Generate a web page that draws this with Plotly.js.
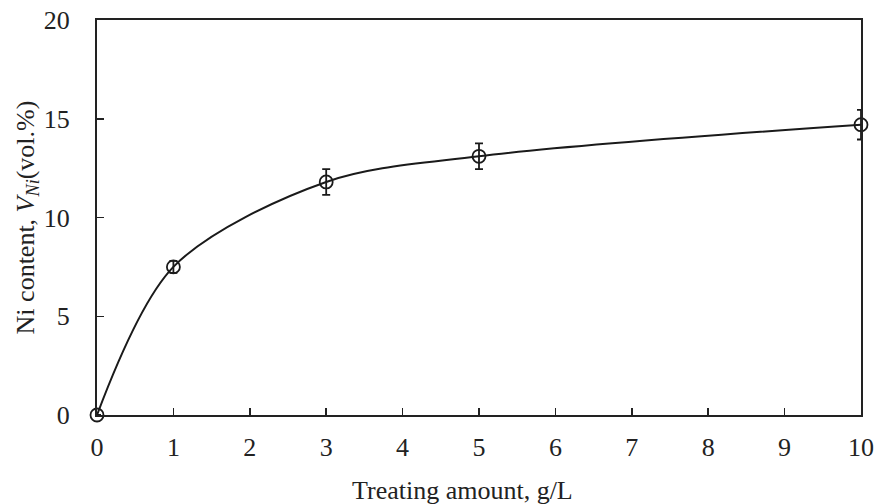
<!DOCTYPE html>
<html><head><meta charset="utf-8">
<script src="https://cdn.plot.ly/plotly-3.0.1.min.js"></script>
<style>body{margin:0;background:#fff}#c{width:879px;height:504px}</style>
</head><body><div id="c"></div>
<script>
var amount = [0, 1, 3, 5, 10];
var niContent = [0, 7.5, 11.8, 13.1, 14.7];
var errBar = [0, 0.3, 0.65, 0.65, 0.75];
var xTicks = [0,1,2,3,4,5,6,7,8,9,10];
var yTicks = [0,5,10,15,20];

var tickFont = {family: 'Liberation Serif, Times New Roman, serif', size: 26, color: '#222'};
var titleFont = {family: 'Liberation Serif, Times New Roman, serif', size: 26, color: '#222'};
var trace = {
  x: amount, y: niContent, type: 'scatter', mode: 'lines+markers',
  line: {shape: 'spline', smoothing: 0.9, color: '#1a1a1a', width: 2},
  marker: {symbol: 'circle-open', size: 13, color: '#1a1a1a', line: {width: 1.8}},
  error_y: {type: 'data', array: errBar, visible: true, color: '#1a1a1a', thickness: 1.8, width: 4},
  cliponaxis: false
};
var layout = {
  width: 879, height: 504,
  margin: {l: 97, r: 18, t: 20, b: 89},
  paper_bgcolor: '#fff', plot_bgcolor: '#fff',
  font: tickFont, showlegend: false,
  xaxis: {range: [0, 10], tickvals: xTicks, ticks: 'inside', ticklen: 7, tickwidth: 1.5, tickcolor: '#222',
    showline: true, linewidth: 2, linecolor: '#222', mirror: true, showgrid: false, zeroline: false,
    tickfont: tickFont, ticklabelstandoff: 8},
  yaxis: {range: [0, 20], tickvals: yTicks, ticks: 'inside', ticklen: 7, tickwidth: 1.5, tickcolor: '#222',
    showline: true, linewidth: 2, linecolor: '#222', mirror: true, showgrid: false, zeroline: false,
    tickfont: tickFont, ticklabelstandoff: 20,
    title: {text: 'Ni content, <i>V</i><sub><i>Ni</i></sub>(vol.%)', font: titleFont, standoff: 2}},
  annotations: [{text: 'Treating amount, g/L', xref: 'paper', yref: 'paper', x: 0.478, y: -0.19,
    xanchor: 'center', yanchor: 'middle', showarrow: false, font: titleFont}]
};
Plotly.newPlot('c', [trace], layout, {displayModeBar: false, staticPlot: true});
</script></body></html>
